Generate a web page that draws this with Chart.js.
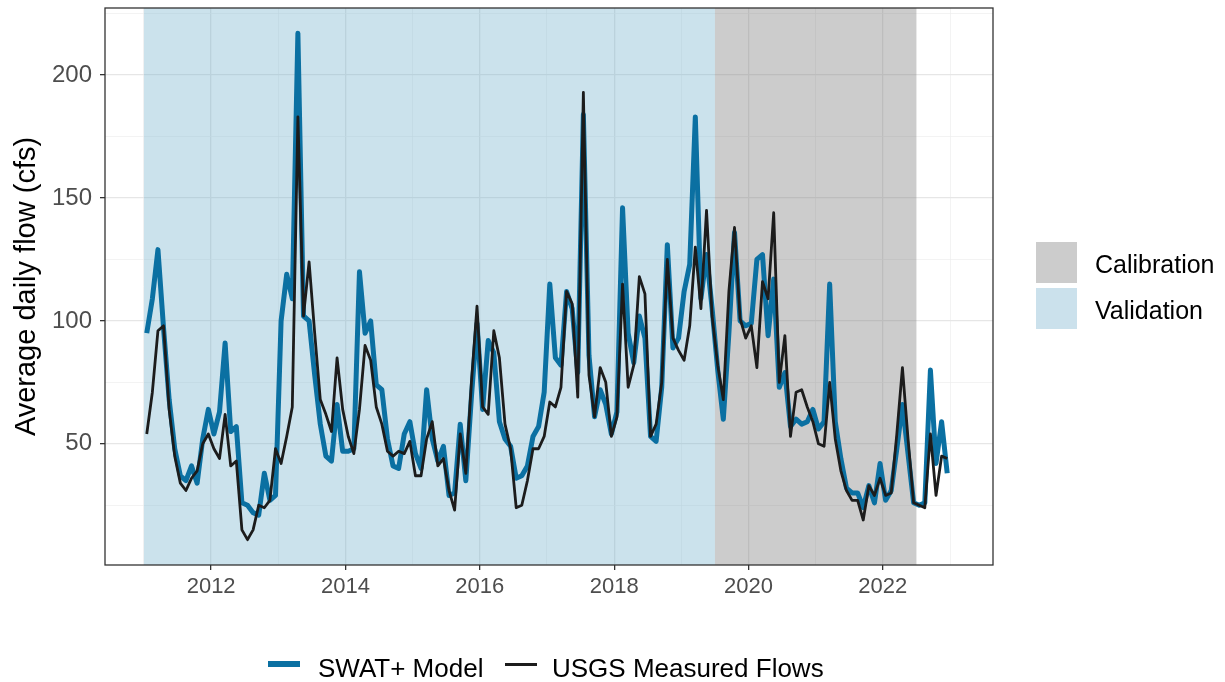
<!DOCTYPE html>
<html><head><meta charset="utf-8">
<script src="https://cdn.jsdelivr.net/npm/chart.js@4.4.1/dist/chart.umd.min.js"></script>
<style>
html,body{margin:0;padding:0;background:#fff;}
#wrap{position:relative;width:1225px;height:682px;font-family:'Liberation Sans',Arial,sans-serif;overflow:hidden;}
#c{position:absolute;left:0;top:0;}
.lg{position:absolute;color:#000;white-space:nowrap;line-height:1;}
.sw{position:absolute;}
</style></head><body>
<div id="wrap"><canvas id="c" width="1225" height="682"></canvas></div>
<script>
// ---- data ----
const firstYear = 2011;           // monthly series start (January)
const seriesNames = ['SWAT+ Model', 'USGS Measured Flows'];
const swatModel = [
  95,109,129,97,68,48,37,35,41,34,52,64,
  54,63,91,55,57,26,25,22,21,38,27,29,
  100,119,109,217,102,100,78,58,45,43,66,47,
  47,48,120,95,100,74,72,52,41,40,54,59,
  46,40,72,52,43,49,29,30,58,35,69,99,
  64,92,87,59,52,49,36,37,41,53,57,71,
  115,85,82,112,105,79,184,86,61,72,66,54,
  63,146,95,83,102,93,53,51,73,131,89,93,
  112,123,183,109,127,105,80,60,95,136,100,98,
  99,125,127,94,117,73,79,57,60,58,59,64,
  56,59,115,59,44,32,30,30,24,33,26,42,
  27,31,48,66,46,26,25,26,80,42,59,38
];
const usgsMeasured = [
  54,71,96,98,64,45,34,31,36,39,50,54,
  48,44,62,41,43,15,11,15,25,24,27,48,
  42,53,65,183,102,124,95,68,62,55,85,64,
  53,46,64,90,84,65,58,47,45,47,46,51,
  37,37,52,59,41,44,31,23,54,38,75,106,
  65,62,96,85,58,48,24,25,35,48,48,53,
  67,65,73,112,107,69,193,78,61,81,75,53,
  61,115,73,82,118,111,53,58,75,125,93,88,
  84,98,130,105,145,102,82,68,112,138,101,93,
  98,81,116,109,144,75,94,53,71,72,65,59,
  50,49,75,52,39,31,27,27,19,33,29,36,
  29,30,54,81,52,26,25,24,54,29,45,44
];
const periodNames = ['Calibration', 'Validation'];
const periodStart = [2019.5, 2011.0];
const periodEnd   = [2022.5, 2019.5];
const yTickLabels = [50, 100, 150, 200];
const xTickLabels = [2012, 2014, 2016, 2018, 2020, 2022];

// ---- styles ----
const lineColors = ['#0b70a2', '#1c1c1c'];
const lineWidths = [5, 2.8];
const periodFill = ['rgba(128,128,128,0.40)', 'rgba(118,178,206,0.38)'];
const periodSwatch = ['#cccccc', '#cbe1ec'];

const toPoints = arr => arr.map((v, i) => ({x: firstYear + (i + 0.5) / 12, y: v}));

const shadePlugin = {
  id: 'shade',
  beforeDatasetsDraw(chart) {
    const {ctx, chartArea: a, scales: {x}} = chart;
    ctx.save();
    ctx.beginPath(); ctx.rect(a.left, a.top, a.right - a.left, a.bottom - a.top); ctx.clip();
    periodNames.forEach((n, i) => {
      const x1 = x.getPixelForValue(periodStart[i]);
      const x2 = x.getPixelForValue(periodEnd[i]);
      ctx.fillStyle = periodFill[i];
      ctx.fillRect(x1, a.top, x2 - x1, a.bottom - a.top);
    });
    ctx.restore();
  },
  afterDatasetsDraw(chart) {
    const {ctx, chartArea: a} = chart;
    ctx.save();
    ctx.strokeStyle = '#333333'; ctx.lineWidth = 1.3;
    ctx.strokeRect(a.left, a.top, a.right - a.left, a.bottom - a.top);
    ctx.restore();
  }
};

const FONT = "'Liberation Sans', Arial, sans-serif";

new Chart(document.getElementById('c'), {
  type: 'line',
  data: {
    datasets: [
      {label: seriesNames[0], data: toPoints(swatModel), borderColor: lineColors[0], borderWidth: lineWidths[0], order: 1},
      {label: seriesNames[1], data: toPoints(usgsMeasured), borderColor: lineColors[1], borderWidth: lineWidths[1], order: 0}
    ]
  },
  options: {
    responsive: false, animation: false, devicePixelRatio: 1,
    elements: {point: {radius: 0}, line: {tension: 0, borderJoinStyle: 'round', borderCapStyle: 'butt', fill: false}},
    layout: {padding: {left: 0, right: 232, top: 8, bottom: 0}},
    plugins: {legend: {display: false}, tooltip: {enabled: false}},
    scales: {
      x: {
        type: 'linear', min: 2010.42, max: 2023.64,
        afterFit: s => { s.height = 117; s.paddingLeft = 0; s.paddingRight = 0; },
        border: {display: false},
        grid: {
          color: c => (c.tick && c.tick.value % 2 === 0) ? '#e6e6e6' : '#eeeeee',
          lineWidth: c => (c.tick && c.tick.value % 2 === 0) ? 1.3 : 0.7,
          tickColor: c => (c.tick && xTickLabels.includes(c.tick.value)) ? '#333333' : 'rgba(0,0,0,0)',
          tickLength: 5, tickWidth: 1.3
        },
        ticks: {
          stepSize: 1, includeBounds: false, autoSkip: false, maxRotation: 0,
          callback: v => xTickLabels.includes(v) ? String(v) : '',
          font: {family: FONT, size: 22}, color: '#4d4d4d', padding: 4
        }
      },
      y: {
        type: 'linear', min: 0.7, max: 227.3,
        afterFit: s => { s.width = 105; s.paddingTop = 0; s.paddingBottom = 0; },
        border: {display: false},
        grid: {
          color: c => (c.tick && c.tick.value % 50 === 0) ? '#e6e6e6' : '#eeeeee',
          lineWidth: c => (c.tick && c.tick.value % 50 === 0) ? 1.3 : 0.7,
          tickColor: c => (c.tick && yTickLabels.includes(c.tick.value)) ? '#333333' : 'rgba(0,0,0,0)',
          tickLength: 5, tickWidth: 1.3
        },
        ticks: {
          stepSize: 25, includeBounds: false, autoSkip: false,
          callback: v => yTickLabels.includes(v) ? String(v) : '',
          font: {family: FONT, size: 24}, color: '#4d4d4d', padding: 8
        },
        title: {display: true, text: 'Average daily flow (cfs)', font: {family: FONT, size: 29}, color: '#000', padding: {top: 10, bottom: 0}}
      }
    }
  },
  plugins: [shadePlugin]
});

// ---- HTML legends (text kept as real text) ----
const wrap = document.getElementById('wrap');
function add(tag, cls, css, text) {
  const e = document.createElement(tag); e.className = cls; e.style.cssText = css;
  if (text) e.textContent = text; wrap.appendChild(e); return e;
}
// right legend (periods)
periodNames.forEach((n, i) => {
  const top = 242 + i * 46;
  add('div', 'sw', `left:1036px;top:${top}px;width:41px;height:41px;background:${periodSwatch[i]};`);
  add('div', 'lg', `left:1095px;top:${top + 10}px;font-size:25px;`, n);
});
// bottom legend (series)
const botX = [268, 505];
const botTX = [318, 552];
seriesNames.forEach((n, i) => {
  add('div', 'sw', `left:${botX[i]}px;top:${664 - (i ? 1.5 : 3)}px;width:32px;height:${i ? 3 : 6}px;background:${lineColors[i]};`);
  add('div', 'lg', `left:${botTX[i]}px;top:655px;font-size:26px;`, n);
});
</script>
</body></html>
